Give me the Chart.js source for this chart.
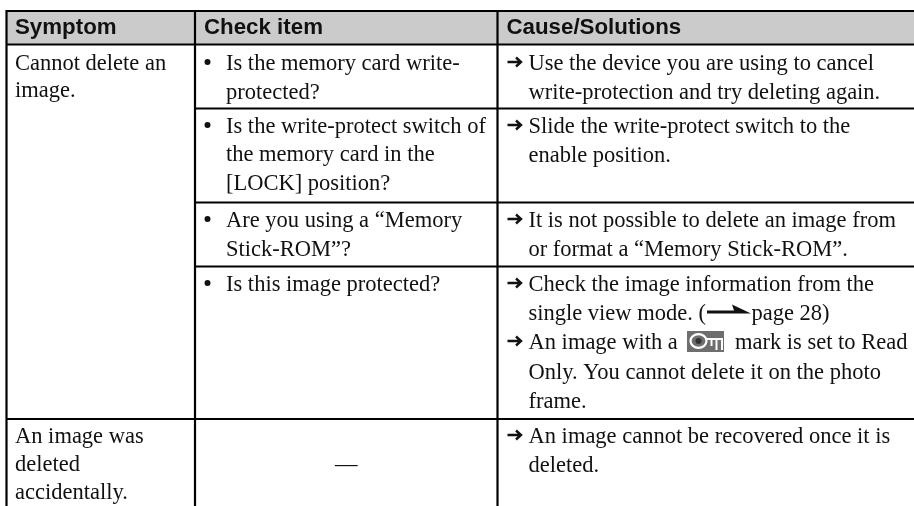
<!DOCTYPE html>
<html lang="en">
<head>
    <meta charset="UTF-8">
    <title>Troubleshooting table</title>
    <script src="https://cdn.jsdelivr.net/npm/chart.js"></script>
    <style>
        html, body { margin: 0; padding: 0; background: #fff; }
        canvas { display: block; }
    </style>
</head>
<body>
    <canvas id="tableChart" width="914" height="506"></canvas>
    <script>
    // table content
    var headers = ['Symptom', 'Check item', 'Cause/Solutions'];
    var symptoms = ['Cannot delete an', 'image.', 'An image was', 'deleted', 'accidentally.'];
    var symptomLines = [70, 97, 443, 471, 499];
    var checks = ['Is the memory card write-', 'protected?', 'Is the write-protect switch of', 'the memory card in the',
        '[LOCK] position?', 'Are you using a \u201cMemory', 'Stick-ROM\u201d?', 'Is this image protected?'];
    var checkLines = [70, 99, 133, 161, 190, 227, 256, 291];
    var checkBullets = [0, 2, 5, 7];
    var solutions = ['Use the device you are using to cancel', 'write-protection and try deleting again.',
        'Slide the write-protect switch to the', 'enable position.',
        'It is not possible to delete an image from', 'or format a \u201cMemory Stick-ROM\u201d.',
        'Check the image information from the', 'single view mode. (',
        'An image with a', 'Only. You cannot delete it on the photo', 'frame.',
        'An image cannot be recovered once it is', 'deleted.'];
    var solutionLines = [70, 99, 133, 162, 227, 256, 291, 320, 349, 379, 408, 443, 472];
    var solutionArrows = [0, 2, 4, 6, 8, 11];
    var inlineTexts = ['page 28)', 'mark is set to Read'];
    var inlineColumns = [751.5, 735];
    var inlineLines = [320, 349];
    var emptyCheck = '\u2014';

    // rules of the table, in the same units as the page
    var columnEdges = [6.5, 195, 497.5];
    var fullRows = [11, 44.5, 419];
    var innerRows = [108.5, 202.5, 266.5];
    var tableRight = 914;
    var tableBottom = 506;

    var ruleSets = [];
    columnEdges.forEach(function (x) {
        ruleSets.push([{ x: x, y: fullRows[0] - 1 }, { x: x, y: tableBottom }]);
    });
    fullRows.forEach(function (y) {
        ruleSets.push([{ x: columnEdges[0], y: y }, { x: tableRight, y: y }]);
    });
    innerRows.forEach(function (y) {
        ruleSets.push([{ x: columnEdges[1], y: y }, { x: tableRight, y: y }]);
    });

    var datasets = ruleSets.map(function (points) {
        return {
            data: points,
            showLine: true,
            borderColor: '#000',
            borderWidth: 2.2,
            pointRadius: 0
        };
    });

    function drawPageArrow(ctx, x, y) {
        ctx.beginPath();
        ctx.moveTo(x, y - 1.5);
        ctx.lineTo(x + 27, y - 1.5);
        ctx.lineTo(x + 25, y - 7.5);
        ctx.lineTo(x + 44, y + 1.5);
        ctx.lineTo(x, y + 1.5);
        ctx.closePath();
        ctx.fill();
    }

    function drawKey(ctx, x, y) {
        ctx.save();
        ctx.fillStyle = '#6e6e6e';
        ctx.fillRect(x, y, 37, 21);
        ctx.strokeStyle = '#fff';
        ctx.lineWidth = 2.2;
        ctx.beginPath();
        ctx.ellipse(x + 11.5, y + 10, 8, 6.8, 0, 0, Math.PI * 2);
        ctx.stroke();
        ctx.fillStyle = '#333';
        ctx.beginPath();
        ctx.arc(x + 11.5, y + 10, 3, 0, Math.PI * 2);
        ctx.fill();
        ctx.lineWidth = 2;
        ctx.beginPath();
        ctx.moveTo(x + 19, y + 8);
        ctx.lineTo(x + 35, y + 8);
        ctx.lineTo(x + 35, y + 19);
        ctx.moveTo(x + 29.5, y + 8);
        ctx.lineTo(x + 29.5, y + 19);
        ctx.moveTo(x + 24.5, y + 8);
        ctx.lineTo(x + 24.5, y + 15);
        ctx.stroke();
        ctx.restore();
    }

    var tablePlugin = {
        id: 'tableText',
        beforeDatasetsDraw: function (chart) {
            var ctx = chart.ctx, sx = chart.scales.x, sy = chart.scales.y;
            var left = sx.getPixelForValue(columnEdges[0]), top = sy.getPixelForValue(fullRows[0]);
            ctx.fillStyle = '#cbcbcb';
            ctx.fillRect(left, top, sx.getPixelForValue(tableRight) - left, sy.getPixelForValue(fullRows[1]) - top);
        },
        afterDatasetsDraw: function (chart) {
            var ctx = chart.ctx, sx = chart.scales.x, sy = chart.scales.y;
            var col0 = sx.getPixelForValue(columnEdges[0]) + 8.5;
            var col1 = sx.getPixelForValue(columnEdges[1]) + 31;
            var col2 = sx.getPixelForValue(columnEdges[2]) + 31;
            ctx.save();
            ctx.textBaseline = 'alphabetic';
            ctx.fillStyle = '#111';

            ctx.font = 'bold 22.3px "Liberation Sans"';
            columnEdges.forEach(function (edge, i) {
                ctx.fillText(headers[i], sx.getPixelForValue(edge) + (i === 0 ? 8.5 : 9), sy.getPixelForValue(33.5));
            });

            ctx.font = '22.5px "Liberation Serif"';
            symptoms.forEach(function (t, i) {
                ctx.fillText(t, col0, sy.getPixelForValue(symptomLines[i]));
            });
            checks.forEach(function (t, i) {
                ctx.fillText(t, col1, sy.getPixelForValue(checkLines[i]));
            });
            solutions.forEach(function (t, i) {
                ctx.fillText(t, col2, sy.getPixelForValue(solutionLines[i]));
            });
            inlineTexts.forEach(function (t, i) {
                ctx.fillText(t, sx.getPixelForValue(inlineColumns[i]), sy.getPixelForValue(inlineLines[i]));
            });
            ctx.fillText(emptyCheck, sx.getPixelForValue(335), sy.getPixelForValue(471));

            // bullets
            ctx.beginPath();
            checkBullets.forEach(function (n) {
                var y = sy.getPixelForValue(checkLines[n]) - 8;
                ctx.moveTo(sx.getPixelForValue(210.5), y);
                ctx.arc(sx.getPixelForValue(207.5), y, 3, 0, Math.PI * 2);
            });
            ctx.fill();

            // arrows in front of each solution
            ctx.strokeStyle = '#111';
            ctx.lineWidth = 2.4;
            solutionArrows.forEach(function (n) {
                var x = sx.getPixelForValue(507.5), y = sy.getPixelForValue(solutionLines[n]) - 8;
                ctx.beginPath();
                ctx.moveTo(x, y);
                ctx.lineTo(x + 13, y);
                ctx.moveTo(x + 8.5, y - 4.5);
                ctx.lineTo(x + 13.5, y);
                ctx.lineTo(x + 8.5, y + 4.5);
                ctx.stroke();
            });

            drawPageArrow(ctx, sx.getPixelForValue(707), sy.getPixelForValue(312));
            drawKey(ctx, sx.getPixelForValue(687), sy.getPixelForValue(331));
            ctx.restore();
        }
    };

    new Chart(document.getElementById('tableChart').getContext('2d'), {
        type: 'scatter',
        data: { datasets: datasets },
        options: {
            responsive: false,
            animation: false,
            layout: { padding: 0 },
            plugins: { legend: { display: false }, tooltip: { enabled: false } },
            scales: {
                x: { type: 'linear', display: false, min: 0, max: 914 },
                y: { type: 'linear', display: false, min: 0, max: 506, reverse: true }
            }
        },
        plugins: [tablePlugin]
    });
    </script>
</body>
</html>
